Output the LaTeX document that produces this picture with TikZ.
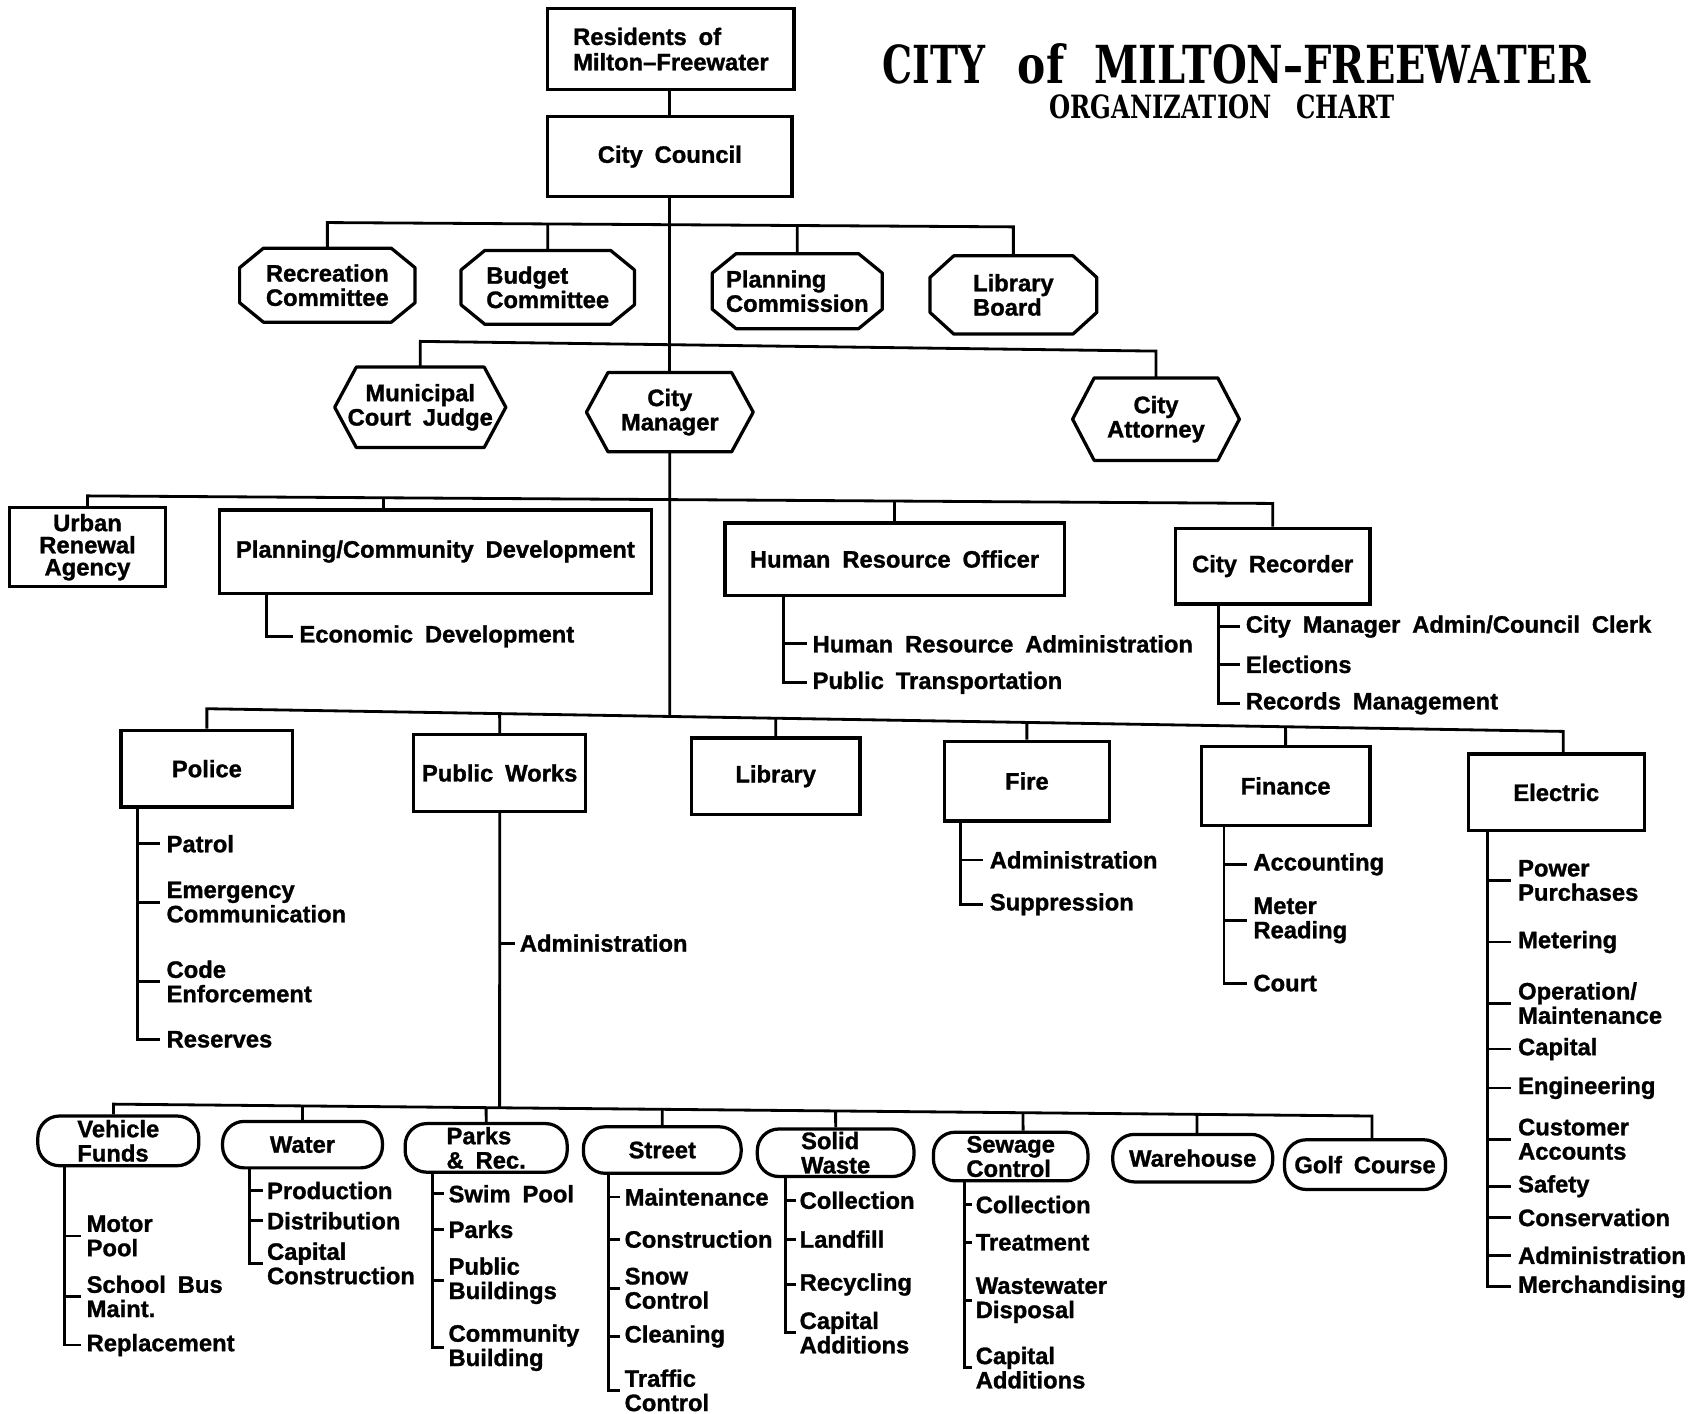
\documentclass[tikz,border=0pt]{standalone}
\usepackage{graphicx}
\usepackage{fontspec}
\setmainfont{Liberation Sans}[BoldFeatures={FakeBold=1.2}]
\newfontfamily\titlefont{DejaVu Serif}
\usetikzlibrary{calc}
\newcommand\orgfont{\fontsize{22pt}{22.5pt}\selectfont\bfseries\spaceskip=0.5em plus 0.15em minus 0.1em\relax}
\newcommand\drawocta[3]{%
  \draw[line width=3pt, line join=round]
    ([xshift=#2]#1.north west) -- ([xshift=-#2]#1.north east) --
    ([yshift=-#3]#1.north east) -- ([yshift=#3]#1.south east) --
    ([xshift=-#2]#1.south east) -- ([xshift=#2]#1.south west) --
    ([yshift=#3]#1.south west) -- ([yshift=-#3]#1.north west) -- cycle;}
\newcommand\drawhexa[2]{%
  \draw[line width=3pt, line join=round]
    ([xshift=#2]#1.north west) -- ([xshift=-#2]#1.north east) -- (#1.east) --
    ([xshift=-#2]#1.south east) -- ([xshift=#2]#1.south west) -- (#1.west) -- cycle;}
% vertical drop from a point to a (slightly sloped) bar
\newcommand\vdrop[3]{%
  \coordinate (vdtmp) at ([yshift=-300pt]#1);
  \draw[conn] (#1) -- (intersection of #2--#3 and #1--vdtmp);}
\begin{document}
\begin{tikzpicture}[x=1pt,y=-1pt,
  every node/.style={font=\orgfont, text=black},
  sqbox/.style={draw, line width=3pt, inner sep=0pt, align=center},
  polybox/.style={inner sep=0pt, align=center},
  pillbox/.style={draw, line width=3pt, rounded corners=20pt, inner sep=0pt, align=center},
  conn/.style={line width=2.6pt},
  item/.style={anchor=west, inner sep=0pt, align=left},
  ttl/.style={anchor=base west, inner sep=0pt}]
\useasboundingbox[fill=white] (0,0) rectangle (1568,1308);

% ---------- title ----------
\node[ttl] (t1) at (817,77) {\resizebox{95pt}{36pt}{\titlefont\bfseries CITY}};
\node[ttl] (t2) at (942,77) {\resizebox{43pt}{37pt}{\titlefont\bfseries of}};
\node[ttl] (t3) at (1013,77) {\resizebox{459pt}{36pt}{\titlefont\bfseries MILTON–FREEWATER}};
\node[ttl] (t4) at (971,110) {\resizebox{320pt}{22pt}{\titlefont\bfseries ORGANIZATION\ \ CHART}};

% ---------- top ----------
\node[sqbox, align=left, minimum width=228pt, minimum height=75pt] (res) at (621,45.5) {Residents of\\[1pt]Milton–Freewater};
\node[sqbox, minimum width=226pt, minimum height=74pt] (council) at (620,145) {City Council};
\draw[conn] (council.north |- res.south) -- (council.north);

\node[polybox, minimum width=162pt, minimum height=68pt] (rec) at (303,264) {Recreation\\Committee};
\node[polybox, align=left, minimum width=160pt, minimum height=68pt] (bud) at (507,266) {Budget\\Committee};
\node[polybox, align=left, minimum width=157pt, minimum height=69pt] (pc) at (738,269.5) {Planning\\Commission};
\node[polybox, align=left, minimum width=154pt, minimum height=72pt] (lb) at (938,273) {Library\\Board};
\drawocta{rec}{22pt}{18pt}
\drawocta{bud}{22pt}{18pt}
\drawocta{pc}{22pt}{18pt}
\drawocta{lb}{22pt}{20pt}

\node[polybox, minimum width=158pt, minimum height=74pt] (mcj) at (389,377) {Municipal\\Court Judge};
\node[polybox, minimum width=154pt, minimum height=73pt] (cm) at (620,381.5) {City\\Manager};
\node[polybox, minimum width=154pt, minimum height=76pt] (ca) at (1070,388) {City\\Attorney};
\drawhexa{mcj}{20pt}
\drawhexa{cm}{20pt}
\drawhexa{ca}{20pt}

\coordinate (b1L) at (303,206);
\coordinate (b1R) at (938,210);
\draw[conn] (rec.north) -- (rec.north |- b1L) -- (lb.north |- b1R) -- (lb.north);
\vdrop{bud.north}{b1L}{b1R}
\vdrop{pc.north}{b1L}{b1R}
\draw[conn] (council.south) -- (cm.north);

\coordinate (b2L) at (389,316);
\coordinate (b2R) at (1070,325);
\draw[conn] (mcj.north) -- (mcj.north |- b2L) -- (ca.north |- b2R) -- (ca.north);

% ---------- third level ----------
\node[sqbox, minimum width=144pt, minimum height=73pt] (ura) at (81,506.5) {Urban\\[-2pt]Renewal\\[-2pt]Agency};
\node[sqbox, minimum width=400pt, minimum height=77pt] (pcd) at (403,510.5) {Planning/Community Development};
\node[sqbox, minimum width=314pt, minimum height=67pt] (hro) at (828,517.5) {Human Resource Officer};
\node[sqbox, minimum width=180pt, minimum height=70pt] (crec) at (1178,524) {City Recorder};

\coordinate (b3L) at (81,459);
\coordinate (b3R) at (1178,466);
\coordinate (pcdTop) at ([xshift=-48pt]pcd.north);
\draw[conn] (ura.north) -- (ura.north |- b3L) -- (crec.north |- b3R) -- (crec.north);
\vdrop{pcdTop}{b3L}{b3R}
\vdrop{hro.north}{b3L}{b3R}

\node[item] (ed) at (277,589) {Economic Development};
\coordinate (pcdV) at ([xshift=-156pt]pcd.south);
\draw[conn] (pcdV) |- ([xshift=-6pt]ed.west);

\node[item] (hra) at (752,596) {Human Resource Administration};
\node[item] (ptr) at (752,632) {Public Transportation};
\coordinate (hroV) at ([xshift=-103pt]hro.south);
\draw[conn] (hroV) |- ([xshift=-5pt]ptr.west);
\draw[conn] (hra.west -| hroV) -- ([xshift=-5pt]hra.west);

\node[item] (cmac) at (1153,580) {City Manager Admin/Council Clerk};
\node[item] (elc) at (1153,615) {Elections};
\node[item] (rmg) at (1153,651) {Records Management};
\coordinate (crecV) at ([xshift=-50pt]crec.south);
\draw[conn] (crecV) |- ([xshift=-5pt]rmg.west);
\foreach \n in {cmac,elc} \draw[conn] (\n.west -| crecV) -- ([xshift=-5pt]\n.west);

% ---------- departments ----------
\node[sqbox, minimum width=159pt, minimum height=71pt] (pol) at (191.5,711.5) {Police};
\node[sqbox, minimum width=159pt, minimum height=71pt] (pw) at (462.5,715.5) {Public Works};
\node[sqbox, minimum width=156pt, minimum height=71pt] (lib) at (718,718.5) {Library};
\node[sqbox, minimum width=153pt, minimum height=74pt] (fire) at (950.5,723) {Fire};
\node[sqbox, minimum width=156pt, minimum height=73pt] (fin) at (1190,727.5) {Finance};
\node[sqbox, minimum width=163pt, minimum height=71pt] (elec) at (1440.5,733.5) {Electric};

\coordinate (b4L) at (191.5,656);
\coordinate (b4R) at (1447,677);
\coordinate (elecTop) at ([xshift=6.5pt]elec.north);
\draw[conn] (pol.north) -- (pol.north |- b4L) -- (elecTop |- b4R) -- (elecTop);
\foreach \n in {pw,lib,fire,fin} {\vdrop{\n.north}{b4L}{b4R}}
\vdrop{cm.south}{b4L}{b4R}

% Police
\node[item] (patrol) at (154,781) {Patrol};
\node[item] (emc) at (154,835) {Emergency\\Communication};
\node[item] (code) at (154,908.5) {Code\\Enforcement};
\node[item] (rsv) at (154,962) {Reserves};
\coordinate (polV) at ([xshift=-64.5pt]pol.south);
\draw[conn] (polV) |- ([xshift=-6pt]rsv.west);
\foreach \n in {patrol,emc,code} \draw[conn] (\n.west -| polV) -- ([xshift=-6pt]\n.west);

% Public Works
\node[item] (pwadm) at (481,873) {Administration};
\draw[conn] (pwadm.west -| pw.south) -- ([xshift=-4pt]pwadm.west);

% Fire
\node[item] (fadm) at (916,796) {Administration};
\node[item] (sup) at (916,837) {Suppression};
\coordinate (fireV) at ([xshift=-61.5pt]fire.south);
\draw[conn] (fireV) |- ([xshift=-6pt]sup.west);
\draw[conn] (fadm.west -| fireV) -- ([xshift=-6pt]fadm.west);

% Finance
\node[item] (acc) at (1160,800) {Accounting};
\node[item] (mrd) at (1160,852) {Meter\\Reading};
\node[item] (crt) at (1160,910) {Court};
\coordinate (finV) at ([xshift=-57pt]fin.south);
\draw[conn] (finV) |- ([xshift=-6pt]crt.west);
\foreach \n in {acc,mrd} \draw[conn] (\n.west -| finV) -- ([xshift=-6pt]\n.west);

% Electric
\node[item] (pp) at (1405,815) {Power\\Purchases};
\node[item] (met) at (1405,872) {Metering};
\node[item] (om) at (1405,928.5) {Operation/\\Maintenance};
\node[item] (capt) at (1405,971) {Capital};
\node[item] (eng) at (1405,1007) {Engineering};
\node[item] (custa) at (1405,1054.5) {Customer\\Accounts};
\node[item] (saf) at (1405,1098) {Safety};
\node[item] (cons) at (1405,1127) {Conservation};
\node[item] (eadm) at (1405,1162) {Administration};
\node[item] (merch) at (1405,1191) {Merchandising};
\coordinate (elecV) at ([xshift=-63.5pt]elec.south);
\draw[conn] (elecV) |- ([xshift=-6pt]merch.west);
\foreach \n in {pp,met,om,capt,eng,custa,saf,cons,eadm} \draw[conn] (\n.west -| elecV) -- ([xshift=-6pt]\n.west);

% ---------- public works divisions ----------
\node[pillbox, align=left, minimum width=149pt, minimum height=46pt] (veh) at (109.5,1056) {Vehicle\\Funds};
\node[pillbox, minimum width=148pt, minimum height=43pt] (wat) at (280,1059.5) {Water};
\node[pillbox, align=left, minimum width=150pt, minimum height=45pt] (parks) at (450,1062.5) {Parks\\\& Rec.};
\node[pillbox, minimum width=146pt, minimum height=43pt] (street) at (613,1064.5) {Street};
\node[pillbox, align=left, minimum width=145pt, minimum height=44pt] (solid) at (773.5,1067) {Solid\\Waste};
\node[pillbox, align=left, minimum width=143pt, minimum height=45pt] (sew) at (935.5,1070.5) {Sewage\\Control};
\node[pillbox, minimum width=148pt, minimum height=44pt] (ware) at (1104,1072) {Warehouse};
\node[pillbox, minimum width=149pt, minimum height=46pt] (golf) at (1263.5,1078) {Golf Course};

\coordinate (b5L) at (105,1022);
\coordinate (b5R) at (1270,1033);
\coordinate (vehTop) at ([xshift=-4.5pt]veh.north);
\coordinate (golfTop) at ([xshift=6.5pt]golf.north);
\coordinate (sewTop) at ([xshift=11.5pt]sew.north);
\coordinate (wareTop) at ([xshift=4pt]ware.north);
\draw[conn] (vehTop) -- (vehTop |- b5L) -- (golfTop |- b5R) -- (golfTop);
\foreach \n in {wat,parks,street,solid} {\vdrop{\n.north}{b5L}{b5R}}
\vdrop{sewTop}{b5L}{b5R}
\vdrop{wareTop}{b5L}{b5R}
\vdrop{pw.south}{b5L}{b5R}

% Vehicle Funds
\node[item] (mpool) at (80,1144) {Motor\\Pool};
\node[item] (sbm) at (80,1200) {School Bus\\Maint.};
\node[item] (repl) at (80,1245) {Replacement};
\coordinate (vehV) at ([xshift=-49.5pt]veh.south);
\draw[conn] (vehV) |- ([xshift=-5pt]repl.west);
\foreach \n in {mpool,sbm} \draw[conn] (\n.west -| vehV) -- ([xshift=-5pt]\n.west);

% Water
\node[item] (prod) at (247,1102) {Production};
\node[item] (dist) at (247,1130) {Distribution};
\node[item] (capc) at (247,1169.5) {Capital\\Construction};
\coordinate (watV) at ([xshift=-49pt]wat.south);
\draw[conn] (watV) |- ([xshift=-4pt]capc.west);
\foreach \n in {prod,dist} \draw[conn] (\n.west -| watV) -- ([xshift=-4pt]\n.west);

% Parks
\node[item] (swim) at (415,1105) {Swim Pool};
\node[item] (pks) at (415,1138) {Parks};
\node[item] (pubb) at (415,1185.5) {Public\\Buildings};
\node[item] (comb) at (415,1247.5) {Community\\Building};
\coordinate (parksV) at ([xshift=-50pt]parks.south);
\draw[conn] (parksV) |- ([xshift=-4pt]comb.west);
\foreach \n in {swim,pks,pubb} \draw[conn] (\n.west -| parksV) -- ([xshift=-4pt]\n.west);

% Street
\node[item] (maint) at (578,1108) {Maintenance};
\node[item] (constr) at (578,1147) {Construction};
\node[item] (snow) at (578,1192.5) {Snow\\Control};
\node[item] (clean) at (578,1237) {Cleaning};
\node[item] (traf) at (578,1287) {Traffic\\Control};
\coordinate (streetV) at ([xshift=-50pt]street.south);
\draw[conn] (streetV) |- ([xshift=-4pt]traf.west);
\foreach \n in {maint,constr,snow,clean} \draw[conn] (\n.west -| streetV) -- ([xshift=-4pt]\n.west);

% Solid Waste
\node[item] (coll) at (740,1111) {Collection};
\node[item] (land) at (740,1147) {Landfill};
\node[item] (recy) at (740,1189) {Recycling};
\node[item] (capa) at (740,1233.5) {Capital\\Additions};
\coordinate (solidV) at ([xshift=-46.5pt]solid.south);
\draw[conn] (solidV) |- ([xshift=-3pt]capa.west);
\foreach \n in {coll,land,recy} \draw[conn] (\n.west -| solidV) -- ([xshift=-3pt]\n.west);

% Sewage Control
\node[item] (coll2) at (903,1115) {Collection};
\node[item] (treat) at (903,1150) {Treatment};
\node[item] (wwd) at (903,1203.5) {Wastewater\\Disposal};
\node[item] (capa2) at (903,1266) {Capital\\Additions};
\coordinate (sewV) at ([xshift=-42.5pt]sew.south);
\draw[conn] (sewV) |- ([xshift=-3pt]capa2.west);
\foreach \n in {coll2,treat,wwd} \draw[conn] (\n.west -| sewV) -- ([xshift=-3pt]\n.west);
\end{tikzpicture}
\end{document}
